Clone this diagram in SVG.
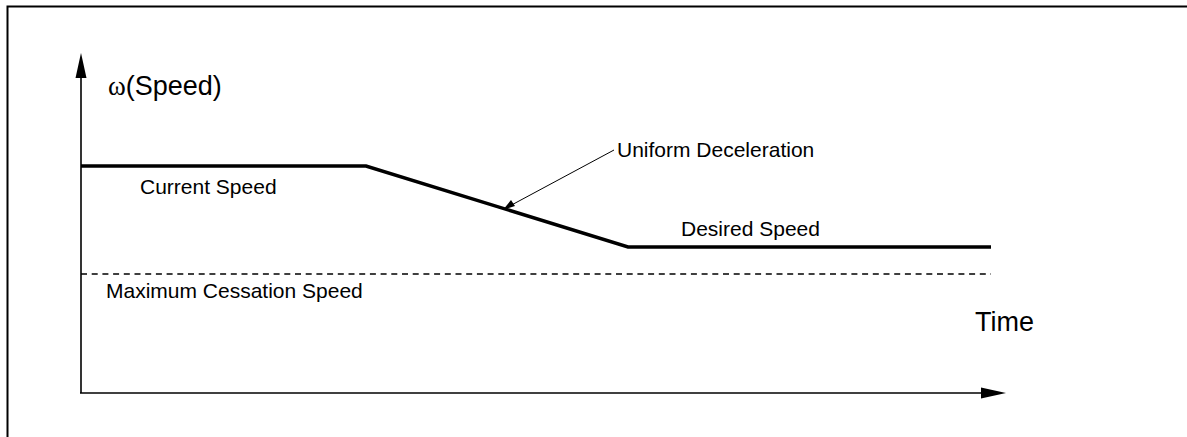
<svg xmlns="http://www.w3.org/2000/svg" width="1187" height="437" viewBox="0 0 1187 437">
<style>
.lbl{font-family:"Liberation Sans",Arial,sans-serif;font-size:21px;fill:#000}
.ax{font-family:"Liberation Sans",Arial,sans-serif;font-size:27px;fill:#000}
.axis{stroke:#000;stroke-width:1.6;fill:none}
.curve{stroke:#000;stroke-width:3.5;fill:none;stroke-linejoin:miter}
.dash{stroke:#000;stroke-width:1.4;stroke-dasharray:6 4.7;fill:none}
.lead{stroke:#000;stroke-width:1;fill:none}
</style>
<defs>
<marker id="ah" viewBox="0 0 10 10" refX="10" refY="5" markerWidth="10" markerHeight="10" markerUnits="userSpaceOnUse" orient="auto"><path d="M0,0 L10,5 L0,10 z" fill="#000"/></marker>
</defs>
<rect width="1187" height="437" fill="#fff"/>
<g id="frame"><path d="M7.5,450 V6.5 H1200" stroke="#000" stroke-width="2" fill="none"/></g>
<g id="connectors">
<path class="axis" d="M81,393 V78"/>
<path d="M81,53 L86.5,78 L75.5,78 z" fill="#000"/>
<path class="axis" d="M80,393 H982"/>
<path d="M1006,393 L981,387.5 L981,398.5 z" fill="#000"/>
<path class="curve" d="M81,166 H366 L628,247 H991"/>
<path class="dash" d="M81,274 H991"/>
<path class="lead" d="M614,150 L506,208"/>
<path d="M503,210 L511,200 L515,206 z" fill="#000"/>
</g>
<g id="y-label"><text class="ax" x="108" y="95"><tspan font-family="Liberation Serif,serif">ω</tspan>(Speed)</text></g>
<g id="x-label"><text class="ax" x="975" y="331">Time</text></g>
<g id="current"><text class="lbl" x="140" y="194">Current Speed</text></g>
<g id="uniform"><text class="lbl" x="617" y="157">Uniform Deceleration</text></g>
<g id="desired"><text class="lbl" x="681" y="236">Desired Speed</text></g>
<g id="max"><text class="lbl" x="106" y="298">Maximum Cessation Speed</text></g>
</svg>
